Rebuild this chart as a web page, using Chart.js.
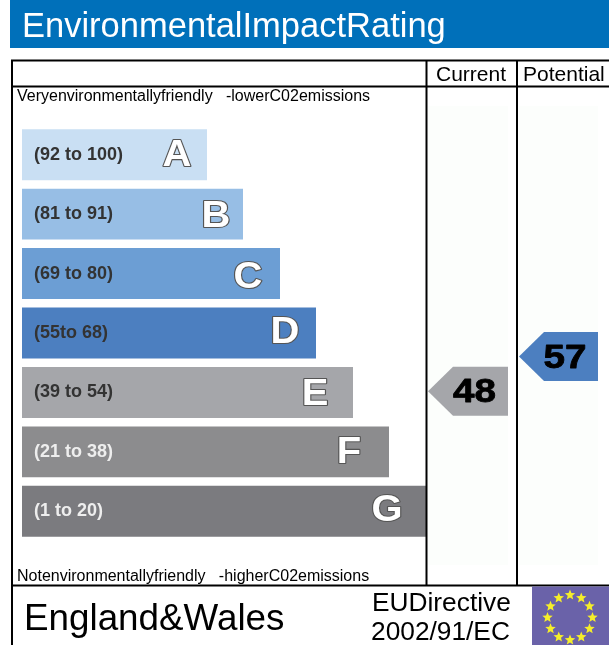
<!DOCTYPE html>
<html><head><meta charset="utf-8">
<style>html,body{margin:0;padding:0;background:#fff}canvas{display:block;filter:blur(0.35px)}</style>
<script src="https://cdn.jsdelivr.net/npm/chart.js@4/dist/chart.umd.min.js"></script>
</head><body><canvas id="c" width="609" height="645"></canvas>
<script>
const bandLabels = ['(92 to 100)','(81 to 91)','(69 to 80)','(55to 68)','(39 to 54)','(21 to 38)','(1 to 20)'];
const bandLows = [92,81,69,55,39,21,1];
const bandHighs = [100,91,80,68,54,38,20];
const bandLetters = ['A','B','C','D','E','F','G'];
const bandLengths = [185,221,258,294,331,367,404];
const bandColors = ['#c9dff3','#97bee5','#6c9ed4','#4c7fc0','#a5a6aa','#8c8c8e','#7b7b7f'];
const labelColors = ['#333333','#333333','#333333','#333333','#333333','#eeeeee','#eeeeee'];
const columnNames = ['Current','Potential'];
const ratings = [48,57];
const ratingColors = ['#a5a6aa','#4c7fc0'];

const SANS = '"Liberation Sans", Arial, sans-serif';
const letterInset = [30,27,32,31,38,40,39];
const letterShift = [0,2,3,-1,1,0,-1];
const columnCenter = [446,536.5];

function ratingToIndex(v){
  const i = bandLows.findIndex((lo,k)=>v>=lo && v<=bandHighs[k]);
  const span = bandHighs[i]-bandLows[i]+1, mid=(bandHighs[i]+bandLows[i])/2;
  return i+(mid-v)/span;
}

const frame = {
  id:'frame',
  beforeDraw(ch){
    const c=ch.ctx; c.save();
    c.fillStyle='#fff'; c.fillRect(0,0,609,645);
    c.fillStyle='#0070ba'; c.fillRect(10,0,599,48);
    c.fillStyle='#fcfefc'; c.fillRect(428,106,80,459); c.fillRect(519,106,79,459);
    c.restore();
  },
  afterDraw(ch){
    const c=ch.ctx; c.save();
    c.fillStyle='#000';
    const line=(x,y,w,h)=>c.fillRect(x,y,w,h);
    line(11,59.5,598,2); line(11,85.5,598,2); line(11,584.5,598,2);
    line(11,60,2,585); line(425.5,60,2,525); line(516,60,2,525);
    c.textBaseline='alphabetic'; c.textAlign='left';
    c.fillStyle='#fff'; c.font='34.5px '+SANS; c.fillText('EnvironmentalImpactRating',22,37);
    c.fillStyle='#000'; c.font='21px '+SANS;
    c.fillText(columnNames[0],436,81); c.fillText(columnNames[1],523,81);
    c.font='16px '+SANS;
    c.fillText('Veryenvironmentallyfriendly   -lowerC02emissions',17,101);
    c.fillText('Notenvironmentallyfriendly   -higherC02emissions',17,581);
    c.font='36.8px '+SANS; c.fillText('England&Wales',24,630);
    c.font='26.3px '+SANS;
    c.fillText('EUDirective',372,611); c.fillText('2002/91/EC',371,640);
    c.fillStyle='#6a62a9'; c.fillRect(532,586.5,77,58.5);
    c.fillStyle='#f5ee2a';
    for(let i=0;i<12;i++){
      const a=i*Math.PI/6, cx=570+22.5*Math.sin(a), cy=617.5-22.5*Math.cos(a);
      c.beginPath();
      for(let k=0;k<10;k++){
        const r=k%2?2.4:5.5, t=k*Math.PI/5;
        c.lineTo(cx+r*Math.sin(t),cy-r*Math.cos(t));
      }
      c.closePath(); c.fill();
    }
    c.restore();
  },
  afterDatasetsDraw(ch){
    const c=ch.ctx, xs=ch.scales.x, ys=ch.scales.y; c.save();
    c.textAlign='center'; c.textBaseline='middle'; c.lineJoin='round';
    bandLetters.forEach((l,i)=>{
      const x=xs.getPixelForValue(bandLengths[i])-letterInset[i], y=ys.getPixelForValue(i)+1+letterShift[i];
      c.save(); c.translate(x,y); c.scale(1.08,1);
      c.font='bold 37px '+SANS;
      c.lineWidth=2.2; c.strokeStyle='#555555'; c.strokeText(l,0,0);
      c.fillStyle='#fff'; c.fillText(l,0,0);
      c.restore();
    });
    ratings.forEach((v,i)=>{
      const x=xs.getPixelForValue(columnCenter[i]), y=ys.getPixelForValue(ratingToIndex(v))+4.5, R=x+40-(i?0.5:0);
      const tip=x-(i?39.5:40), sh=tip+25;
      c.fillStyle=ratingColors[i];
      c.beginPath(); c.moveTo(tip,y); c.lineTo(sh,y-24.5); c.lineTo(R,y-24.5); c.lineTo(R,y+24.5); c.lineTo(sh,y+24.5); c.closePath(); c.fill();
      c.save(); c.translate(x+6.5,y+2); c.scale(1.17,1);
      c.fillStyle='#000'; c.font='bold 33px '+SANS;
      c.lineWidth=0.8; c.strokeStyle='#000'; c.strokeText(String(v),0,0);
      c.fillText(String(v),0,0);
      c.restore();
    });
    c.restore();
  }
};

new Chart(document.getElementById('c'),{
  type:'bar',
  plugins:[frame],
  data:{
    labels:bandLabels,
    datasets:[
      {data:bandLengths,backgroundColor:bandColors,borderWidth:0,barPercentage:0.857,categoryPercentage:1,xAxisID:'x',yAxisID:'y'}
    ]
  },
  options:{
    indexAxis:'y',responsive:false,animation:false,
    layout:{padding:{left:22,right:11,top:125,bottom:104}},
    plugins:{legend:{display:false},tooltip:{enabled:false}},
    scales:{
      x:{display:false,min:0,max:576},
      y:{position:'left',afterFit(s){s.width=0},border:{display:false},grid:{display:false,drawTicks:false},
         ticks:{z:1,mirror:true,padding:12,color:labelColors,font:{family:'"Liberation Sans"',size:18,weight:'bold'}}}
    }
  }
});
</script></body></html>
